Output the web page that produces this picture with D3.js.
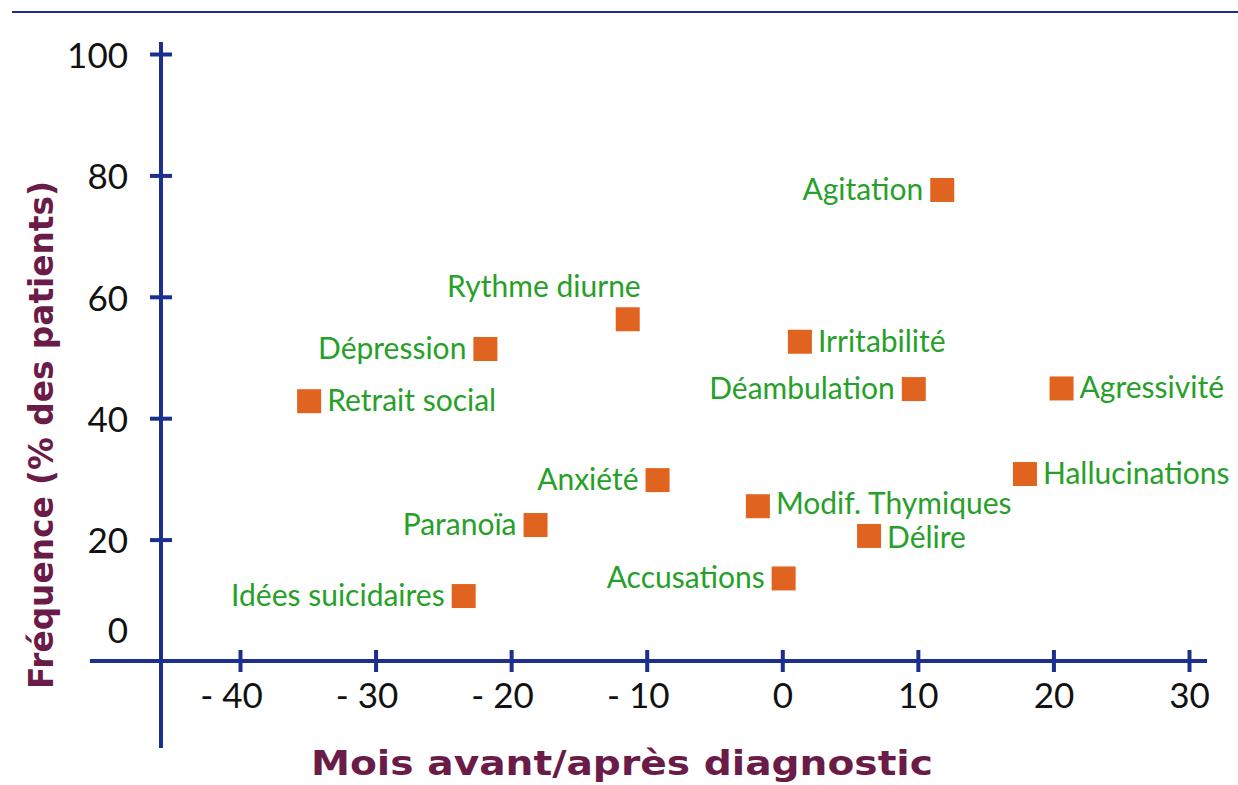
<!DOCTYPE html>
<html>
<head>
<meta charset="utf-8">
<script src="https://cdn.jsdelivr.net/npm/d3@7"></script>
<style>
  body { margin: 0; background: #fff; }
  svg { display: block; font-family: Lato, "Open Sans", sans-serif; }
</style>
</head>
<body>
<div id="chart"></div>
<script>
// symptomes (categories)
const symptomes = ["Agitation", "Rythme diurne", "Dépression", "Retrait social", "Irritabilité",
    "Déambulation", "Agressivité", "Hallucinations", "Anxiété", "Modif. Thymiques",
    "Délire", "Paranoïa", "Accusations", "Idées suicidaires"];
// mois avant/apres diagnostic
const mois = [11.8, -11.4, -21.9, -34.9, 1.3, 9.7, 20.6, 17.9, -9.2, -1.8, 6.4, -18.2, 0.1, -23.5];
// frequence (% des patients)
const frequence = [77.6, 56.3, 51.4, 42.8, 52.6, 44.8, 44.9, 30.8, 29.8, 25.5, 20.6, 22.4, 13.6, 10.7];
// ticks
const xTicks = [-40, -30, -20, -10, 0, 10, 20, 30];
const yTicks = [0, 20, 40, 60, 80, 100];

const data = symptomes.map((s, i) => ({ nom: s, mois: mois[i], freq: frequence[i] }));

// on met l'etiquette a gauche, a droite ou au-dessus
const cote = {
    "Agitation": "left", "Rythme diurne": "top", "Dépression": "left", "Retrait social": "right",
    "Irritabilité": "right", "Déambulation": "left", "Agressivité": "right", "Hallucinations": "right",
    "Anxiété": "left", "Modif. Thymiques": "right", "Délire": "right", "Paranoïa": "left",
    "Accusations": "left", "Idées suicidaires": "left"
};

const W = 1238, H = 785;
const bleu = "#1c2e8e", orange = "#e0641f", vert = "#27a02a", violet = "#6a1b48";

const svg = d3.select("#chart").append("svg")
    .attr("width", W)
    .attr("height", H);

// ligne du haut
svg.append("line")
    .attr("x1", 12).attr("x2", W)
    .attr("y1", 12).attr("y2", 12)
    .attr("stroke", bleu).attr("stroke-width", 2);

// echelles
const x = d3.scaleLinear().domain([-40, 30]).range([240, 1189]);
const y = d3.scaleLinear().domain([0, 100]).range([661, 54]);

const axeX = 661, axeY = 161;

// axe X
const gx = svg.append("g")
    .attr("transform", `translate(0, ${axeX})`)
    .call(d3.axisBottom(x)
        .tickValues(xTicks)
        .tickSize(12)
        .tickPadding(10)
        .tickFormat(d => d < 0 ? "- " + (-d) : d));
gx.select(".domain").remove();
gx.selectAll(".tick line")
    .attr("y1", -11).attr("y2", 11)
    .attr("stroke", bleu).attr("stroke-width", 4);
gx.selectAll(".tick text")
    .attr("font-size", 35)
    .attr("fill", "#111")
    .attr("font-family", "Lato")
    .attr("dx", d => d < 0 ? -9 : 0);
gx.append("line")
    .attr("x1", 90).attr("x2", 1207)
    .attr("stroke", bleu).attr("stroke-width", 4);

// axe Y
const gy = svg.append("g")
    .attr("transform", `translate(${axeY}, 0)`)
    .call(d3.axisLeft(y)
        .tickValues(yTicks)
        .tickSize(11)
        .tickPadding(22));
gy.select(".domain").remove();
gy.selectAll(".tick line")
    .attr("x1", -11).attr("x2", 11)
    .attr("stroke", bleu).attr("stroke-width", 4);
gy.selectAll(".tick")
    .filter(d => d === 0)
    .select("line").remove();
gy.selectAll(".tick text")
    .attr("font-size", 35)
    .attr("fill", "#111")
    .attr("font-family", "Lato")
    .attr("dy", d => d === 0 ? "-0.52em" : "0.38em");
gy.append("line")
    .attr("y1", 42).attr("y2", 748)
    .attr("stroke", bleu).attr("stroke-width", 4);

// titres des axes
svg.append("text")
    .attr("x", 622)
    .attr("y", 775)
    .attr("text-anchor", "middle")
    .attr("font-family", "'DejaVu Sans', sans-serif")
    .attr("font-size", 34)
    .attr("font-weight", "bold")
    .attr("fill", violet)
    .attr("textLength", 622)
    .attr("lengthAdjust", "spacingAndGlyphs")
    .text("Mois avant/après diagnostic");

svg.append("text")
    .attr("transform", "translate(53, 435) rotate(-90)")
    .attr("text-anchor", "middle")
    .attr("font-family", "'DejaVu Sans', sans-serif")
    .attr("font-size", 34)
    .attr("font-weight", "bold")
    .attr("fill", violet)
    .attr("textLength", 508)
    .attr("lengthAdjust", "spacingAndGlyphs")
    .text("Fréquence (% des patients)");

// points
const cote_px = 24;
svg.selectAll(".point")
    .data(data)
    .enter()
    .append("rect")
        .attr("class", "point")
        .attr("x", d => x(d.mois) - cote_px / 2)
        .attr("y", d => y(d.freq) - cote_px / 2)
        .attr("width", cote_px)
        .attr("height", cote_px)
        .attr("fill", orange);

// etiquettes
svg.selectAll(".etiquette")
    .data(data)
    .enter()
    .append("text")
        .attr("class", "etiquette")
        .attr("x", d => {
            const c = cote[d.nom];
            if (c === "left") return x(d.mois) - cote_px / 2 - 7;
            if (c === "right") return x(d.mois) + cote_px / 2 + 6;
            return x(d.mois) + cote_px / 2 + 1;
        })
        .attr("y", d => {
            const c = cote[d.nom];
            if (c === "top") return y(d.freq) - 22;
            if (d.nom === "Modif. Thymiques") return y(d.freq) + 8;
            if (d.nom === "Délire") return y(d.freq) + 12;
            return y(d.freq) + 10;
        })
        .attr("text-anchor", d => cote[d.nom] === "right" ? "start" : "end")
        .attr("font-size", 30)
        .attr("fill", vert)
        .text(d => d.nom);
</script>
</body>
</html>
